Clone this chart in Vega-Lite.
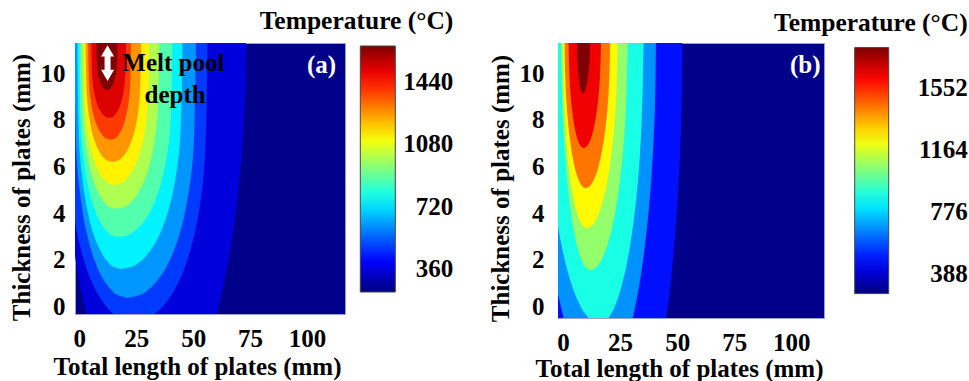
{
  "$schema": "https://vega.github.io/schema/vega-lite/v6.json",
  "background": "white",
  "padding": {"left": 8, "top": 8, "right": 0, "bottom": 0},
  "config": {
    "font": "Liberation Serif",
    "view": {"fill": "#00008B", "stroke": "#9AA0C8", "strokeWidth": 1},
    "axis": {"labelFont": "Liberation Serif", "titleFont": "Liberation Serif", "labelFontWeight": "bold", "titleFontWeight": "bold", "labelFontSize": 25, "titleFontSize": 25, "labelColor": "black", "titleColor": "black", "grid": false, "ticks": false, "domain": false, "labelFlush": false, "labelOverlap": false},
    "legend": {"labelFont": "Liberation Serif", "titleFont": "Liberation Serif", "labelFontWeight": "bold", "titleFontWeight": "bold", "labelColor": "black", "titleColor": "black", "titleLimit": 400, "labelLimit": 200}
  },
  "datasets": {
    "a": [
      {"k":1,"temp":356,"y":11.29,"xl":-8.8,"xr":73.2},{"k":1,"temp":356,"y":8.06,"xl":-8.0,"xr":72.34},{"k":1,"temp":356,"y":4.82,"xl":-5.5,"xr":69.65},{"k":1,"temp":356,"y":1.59,"xl":-0.9,"xr":64.7},{"k":1,"temp":356,"y":-0.84,"xl":4.57,"xr":58.81},{"k":1,"temp":356,"y":-2.45,"xl":9.89,"xr":53.09},
      {"k":2,"temp":485,"y":11.29,"xl":-6.1,"xr":56.3},{"k":2,"temp":485,"y":6.51,"xl":-5.13,"xr":55.24},{"k":2,"temp":485,"y":4.11,"xl":-2.68,"xr":52.56},{"k":2,"temp":485,"y":2.32,"xl":1.04,"xr":48.49},{"k":2,"temp":485,"y":1.12,"xl":5.19,"xr":43.95},{"k":2,"temp":485,"y":0.29,"xl":9.68,"xr":39.04},{"k":2,"temp":485,"y":-0.31,"xl":14.89,"xr":33.33},{"k":2,"temp":485,"y":-0.55,"xl":18.57,"xr":29.32},{"k":2,"temp":485,"y":-0.67,"xl":23.7,"xr":23.7},
      {"k":3,"temp":614,"y":11.29,"xl":-2.2,"xr":51.2},{"k":3,"temp":614,"y":6.92,"xl":-1.44,"xr":50.22},{"k":3,"temp":614,"y":4.73,"xl":0.47,"xr":47.75},{"k":3,"temp":614,"y":3.09,"xl":3.38,"xr":43.99},{"k":3,"temp":614,"y":2.0,"xl":6.63,"xr":39.8},{"k":3,"temp":614,"y":1.23,"xl":10.14,"xr":35.26},{"k":3,"temp":614,"y":0.69,"xl":14.21,"xr":29.99},{"k":3,"temp":614,"y":0.47,"xl":17.09,"xr":26.29},{"k":3,"temp":614,"y":0.36,"xl":21.1,"xr":21.1},
      {"k":4,"temp":743,"y":11.29,"xl":-0.9,"xr":45.3},{"k":4,"temp":743,"y":7.41,"xl":-0.27,"xr":44.43},{"k":4,"temp":743,"y":5.48,"xl":1.31,"xr":42.22},{"k":4,"temp":743,"y":4.02,"xl":3.72,"xr":38.85},{"k":4,"temp":743,"y":3.05,"xl":6.41,"xr":35.11},{"k":4,"temp":743,"y":2.38,"xl":9.32,"xr":31.05},{"k":4,"temp":743,"y":1.89,"xl":12.7,"xr":26.35},{"k":4,"temp":743,"y":1.7,"xl":15.07,"xr":23.03},{"k":4,"temp":743,"y":1.6,"xl":18.4,"xr":18.4},
      {"k":5,"temp":873,"y":11.29,"xl":0.0,"xr":40.9},{"k":5,"temp":873,"y":7.96,"xl":0.56,"xr":40.13},{"k":5,"temp":873,"y":6.3,"xl":1.96,"xr":38.17},{"k":5,"temp":873,"y":5.05,"xl":4.1,"xr":35.2},{"k":5,"temp":873,"y":4.22,"xl":6.48,"xr":31.88},{"k":5,"temp":873,"y":3.64,"xl":9.06,"xr":28.3},{"k":5,"temp":873,"y":3.22,"xl":12.05,"xr":24.13},{"k":5,"temp":873,"y":3.05,"xl":14.15,"xr":21.2},{"k":5,"temp":873,"y":2.97,"xl":17.1,"xr":17.1},
      {"k":6,"temp":1002,"y":11.29,"xl":0.9,"xr":35.1},{"k":6,"temp":1002,"y":8.45,"xl":1.4,"xr":34.49},{"k":6,"temp":1002,"y":7.02,"xl":2.65,"xr":32.93},{"k":6,"temp":1002,"y":5.96,"xl":4.57,"xr":30.57},{"k":6,"temp":1002,"y":5.25,"xl":6.7,"xr":27.94},{"k":6,"temp":1002,"y":4.75,"xl":9.0,"xr":25.09},{"k":6,"temp":1002,"y":4.39,"xl":11.68,"xr":21.78},{"k":6,"temp":1002,"y":4.25,"xl":13.56,"xr":19.46},{"k":6,"temp":1002,"y":4.18,"xl":16.2,"xr":16.2},
      {"k":7,"temp":1131,"y":11.29,"xl":1.8,"xr":30.7},{"k":7,"temp":1131,"y":8.86,"xl":2.24,"xr":30.2},{"k":7,"temp":1131,"y":7.64,"xl":3.36,"xr":28.95},{"k":7,"temp":1131,"y":6.73,"xl":5.06,"xr":27.03},{"k":7,"temp":1131,"y":6.12,"xl":6.95,"xr":24.9},{"k":7,"temp":1131,"y":5.7,"xl":9.0,"xr":22.6},{"k":7,"temp":1131,"y":5.39,"xl":11.38,"xr":19.92},{"k":7,"temp":1131,"y":5.27,"xl":13.06,"xr":18.04},{"k":7,"temp":1131,"y":5.21,"xl":15.4,"xr":15.4},
      {"k":8,"temp":1260,"y":11.29,"xl":2.8,"xr":27.1},{"k":8,"temp":1260,"y":9.25,"xl":3.18,"xr":26.69},{"k":8,"temp":1260,"y":8.23,"xl":4.15,"xr":25.67},{"k":8,"temp":1260,"y":7.47,"xl":5.63,"xr":24.11},{"k":8,"temp":1260,"y":6.96,"xl":7.27,"xr":22.37},{"k":8,"temp":1260,"y":6.6,"xl":9.05,"xr":20.48},{"k":8,"temp":1260,"y":6.34,"xl":11.11,"xr":18.29},{"k":8,"temp":1260,"y":6.24,"xl":12.57,"xr":16.75},{"k":8,"temp":1260,"y":6.19,"xl":14.6,"xr":14.6},
      {"k":9,"temp":1389,"y":11.29,"xl":3.9,"xr":22.7},{"k":9,"temp":1389,"y":9.63,"xl":4.23,"xr":22.41},{"k":9,"temp":1389,"y":8.8,"xl":5.05,"xr":21.69},{"k":9,"temp":1389,"y":8.18,"xl":6.3,"xr":20.59},{"k":9,"temp":1389,"y":7.76,"xl":7.69,"xr":19.37},{"k":9,"temp":1389,"y":7.47,"xl":9.2,"xr":18.04},{"k":9,"temp":1389,"y":7.26,"xl":10.95,"xr":16.5},{"k":9,"temp":1389,"y":7.18,"xl":12.18,"xr":15.42},{"k":9,"temp":1389,"y":7.14,"xl":13.9,"xr":13.9},
      {"k":10,"temp":1518,"y":11.29,"xl":5.3,"xr":20.5},{"k":10,"temp":1518,"y":10.01,"xl":5.56,"xr":20.26},{"k":10,"temp":1518,"y":9.36,"xl":6.21,"xr":19.66},{"k":10,"temp":1518,"y":8.88,"xl":7.19,"xr":18.75},{"k":10,"temp":1518,"y":8.56,"xl":8.29,"xr":17.73},{"k":10,"temp":1518,"y":8.34,"xl":9.48,"xr":16.63},{"k":10,"temp":1518,"y":8.18,"xl":10.87,"xr":15.36},{"k":10,"temp":1518,"y":8.11,"xl":11.84,"xr":14.46},{"k":10,"temp":1518,"y":8.08,"xl":13.2,"xr":13.2},
      {"k":11,"temp":1647,"y":11.29,"xl":7.5,"xr":16.8},{"k":11,"temp":1647,"y":10.49,"xl":7.66,"xr":16.65},{"k":11,"temp":1647,"y":10.08,"xl":8.05,"xr":16.28},{"k":11,"temp":1647,"y":9.78,"xl":8.65,"xr":15.72},{"k":11,"temp":1647,"y":9.58,"xl":9.32,"xr":15.1},{"k":11,"temp":1647,"y":9.44,"xl":10.04,"xr":14.42},{"k":11,"temp":1647,"y":9.34,"xl":10.88,"xr":13.63},{"k":11,"temp":1647,"y":9.3,"xl":11.47,"xr":13.08},{"k":11,"temp":1647,"y":9.28,"xl":12.3,"xr":12.3}
    ],
    "b": [
      {"k":1,"temp":478,"y":11.29,"xl":-18.57,"xr":52.26},{"k":1,"temp":478,"y":7.54,"xl":-17.77,"xr":51.63},{"k":1,"temp":478,"y":3.78,"xl":-15.28,"xr":49.64},{"k":1,"temp":478,"y":0.03,"xl":-10.69,"xr":45.98},{"k":1,"temp":478,"y":-2.79,"xl":-5.22,"xr":41.62},
      {"k":2,"temp":679,"y":11.29,"xl":-11.39,"xr":40.69},{"k":2,"temp":679,"y":8.39,"xl":-10.83,"xr":40.2},{"k":2,"temp":679,"y":5.49,"xl":-9.06,"xr":38.67},{"k":2,"temp":679,"y":2.6,"xl":-5.82,"xr":35.85},{"k":2,"temp":679,"y":0.42,"xl":-1.96,"xr":32.49},{"k":2,"temp":679,"y":-1.03,"xl":1.79,"xr":29.23},
      {"k":3,"temp":880,"y":11.29,"xl":-8.06,"xr":35.3},{"k":3,"temp":880,"y":6.49,"xl":-6.05,"xr":33.69},{"k":3,"temp":880,"y":4.08,"xl":-3.24,"xr":31.45},{"k":3,"temp":880,"y":2.28,"xl":0.1,"xr":28.78},{"k":3,"temp":880,"y":1.08,"xl":3.34,"xr":26.18},{"k":3,"temp":880,"y":0.24,"xl":6.59,"xr":23.58},{"k":3,"temp":880,"y":-0.36,"xl":10.17,"xr":20.71},{"k":3,"temp":880,"y":-0.6,"xl":12.63,"xr":18.75},{"k":3,"temp":880,"y":-0.72,"xl":16.03,"xr":16.03},
      {"k":4,"temp":1065,"y":11.29,"xl":-0.83,"xr":28.3},{"k":4,"temp":1065,"y":7.39,"xl":0.23,"xr":26.93},{"k":4,"temp":1065,"y":5.45,"xl":1.71,"xr":25.01},{"k":4,"temp":1065,"y":3.98,"xl":3.47,"xr":22.74},{"k":4,"temp":1065,"y":3.01,"xl":5.18,"xr":20.53},{"k":4,"temp":1065,"y":2.33,"xl":6.89,"xr":18.31},{"k":4,"temp":1065,"y":1.84,"xl":8.78,"xr":15.86},{"k":4,"temp":1065,"y":1.65,"xl":10.08,"xr":14.19},{"k":4,"temp":1065,"y":1.55,"xl":11.87,"xr":11.87},
      {"k":5,"temp":1235,"y":11.29,"xl":-0.18,"xr":23.92},{"k":5,"temp":1235,"y":8.11,"xl":0.7,"xr":22.79},{"k":5,"temp":1235,"y":6.53,"xl":1.92,"xr":21.2},{"k":5,"temp":1235,"y":5.33,"xl":3.38,"xr":19.32},{"k":5,"temp":1235,"y":4.54,"xl":4.8,"xr":17.49},{"k":5,"temp":1235,"y":3.99,"xl":6.22,"xr":15.66},{"k":5,"temp":1235,"y":3.59,"xl":7.78,"xr":13.64},{"k":5,"temp":1235,"y":3.43,"xl":8.86,"xr":12.26},{"k":5,"temp":1235,"y":3.35,"xl":10.34,"xr":10.34},
      {"k":6,"temp":1436,"y":11.29,"xl":0.7,"xr":20.63},{"k":6,"temp":1436,"y":8.8,"xl":1.47,"xr":19.73},{"k":6,"temp":1436,"y":7.56,"xl":2.54,"xr":18.48},{"k":6,"temp":1436,"y":6.63,"xl":3.82,"xr":17.0},{"k":6,"temp":1436,"y":6.0,"xl":5.05,"xr":15.55},{"k":6,"temp":1436,"y":5.57,"xl":6.29,"xr":14.11},{"k":6,"temp":1436,"y":5.26,"xl":7.66,"xr":12.51},{"k":6,"temp":1436,"y":5.13,"xl":8.6,"xr":11.41},{"k":6,"temp":1436,"y":5.07,"xl":9.9,"xr":9.9},
      {"k":7,"temp":1637,"y":11.29,"xl":2.45,"xr":16.6},{"k":7,"temp":1637,"y":9.49,"xl":3.0,"xr":15.97},{"k":7,"temp":1637,"y":8.58,"xl":3.76,"xr":15.08},{"k":7,"temp":1637,"y":7.91,"xl":4.67,"xr":14.03},{"k":7,"temp":1637,"y":7.46,"xl":5.56,"xr":13.01},{"k":7,"temp":1637,"y":7.14,"xl":6.45,"xr":11.99},{"k":7,"temp":1637,"y":6.92,"xl":7.42,"xr":10.86},{"k":7,"temp":1637,"y":6.83,"xl":8.09,"xr":10.09},{"k":7,"temp":1637,"y":6.78,"xl":9.02,"xr":9.02},
      {"k":8,"temp":1807,"y":11.29,"xl":6.18,"xr":11.87},{"k":8,"temp":1807,"y":10.43,"xl":6.38,"xr":11.6},{"k":8,"temp":1807,"y":10.0,"xl":6.66,"xr":11.21},{"k":8,"temp":1807,"y":9.68,"xl":7.0,"xr":10.76},{"k":8,"temp":1807,"y":9.46,"xl":7.32,"xr":10.32},{"k":8,"temp":1807,"y":9.31,"xl":7.65,"xr":9.88},{"k":8,"temp":1807,"y":9.2,"xl":8.0,"xr":9.39},{"k":8,"temp":1807,"y":9.16,"xl":8.25,"xr":9.05},{"k":8,"temp":1807,"y":9.14,"xl":8.59,"xr":8.59}
    ]
  },
  "spacing": 33,
  "resolve": {"scale": {"color": "independent", "x": "independent", "y": "independent"}, "legend": {"color": "independent"}},
  "hconcat": [
    {
      "width": 270,
      "height": 271,
      "encoding": {
        "x": {"field": "xl", "type": "quantitative", "stack": null, "scale": {"domain": [-1.9, 116.7], "nice": false, "zero": false},
              "axis": {"values": [0, 25, 50, 75, 100], "title": "Total length of plates (mm)", "labelPadding": 12, "titlePadding": 3, "titleX": 122}},
        "y": {"field": "y", "type": "quantitative", "scale": {"domain": [-0.33, 11.29], "nice": false, "zero": false},
              "axis": {"values": [0, 2, 4, 6, 8, 10], "title": "Thickness of plates (mm)", "labelPadding": 10, "titlePadding": 6, "titleY": 144}}
      },
      "layer": [
        {
          "data": {"name": "a"},
          "mark": {"type": "area", "orient": "horizontal", "interpolate": "monotone", "clip": true},
          "encoding": {
            "x2": {"field": "xr"},
            "detail": {"field": "k", "type": "quantitative"},
            "color": {"field": "temp", "type": "quantitative",
              "scale": {"domain": [227, 1647], "range": ["#00007F","#0000FF","#007FFF","#00FFFF","#7FFF7F","#FFFF00","#FF7F00","#FF0000","#7F0000"], "interpolate": "rgb"},
              "legend": {"orient": "none", "legendX": 184.3, "legendY": -34, "padding": 0, "direction": "vertical",
                "title": "Temperature (°C)", "titleFontSize": 25.5, "titleAnchor": "end", "titlePadding": 11.5,
                "gradientLength": 246, "gradientThickness": 35, "gradientStrokeColor": "#444444", "gradientStrokeWidth": 1,
                "values": [360, 720, 1080, 1440], "format": "d", "labelFontSize": 25, "labelOffset": 58, "labelAlign": "right",
                "encode": {"labels": {"update": {"align": {"value": "right"}}}}}}
          }
        },
        {
          "data": {"values": [{"xl": 112.8, "y": 10.36, "t": "(a)"}]},
          "mark": {"type": "text", "color": "white", "fontSize": 25, "fontWeight": "bold", "align": "right", "baseline": "middle"},
          "encoding": {"text": {"field": "t"}}
        },
        {
          "data": {"values": [{"xl": 41.3, "y": 10.43, "t": "Melt pool"}, {"xl": 42.1, "y": 9.07, "t": "depth"}]},
          "mark": {"type": "text", "color": "black", "fontSize": 25, "fontWeight": "bold", "align": "center", "baseline": "middle"},
          "encoding": {"text": {"field": "t"}}
        },
        {
          "data": {"values": [{"xl": 12.4, "y": 10.8, "y2": 10.05}]},
          "mark": {"type": "rule", "color": "white", "strokeWidth": 6},
          "encoding": {"y2": {"field": "y2"}}
        },
        {
          "data": {"values": [{"xl": 12.4, "y": 10.95}]},
          "mark": {"type": "point", "shape": "triangle-up", "filled": true, "color": "white", "opacity": 1, "size": 170},
          "encoding": {}
        },
        {
          "data": {"values": [{"xl": 12.4, "y": 9.9}]},
          "mark": {"type": "point", "shape": "triangle-down", "filled": true, "color": "white", "opacity": 1, "size": 170},
          "encoding": {}
        }
      ]
    },
    {
      "width": 266,
      "height": 275,
      "encoding": {
        "x": {"field": "xl", "type": "quantitative", "stack": null, "scale": {"domain": [-2.2, 114.3], "nice": false, "zero": false},
              "axis": {"values": [0, 25, 50, 75, 100], "title": "Total length of plates (mm)", "labelPadding": 12, "titlePadding": 1, "titleX": 121}},
        "y": {"field": "y", "type": "quantitative", "scale": {"domain": [-0.49, 11.29], "nice": false, "zero": false},
              "axis": {"values": [0, 2, 4, 6, 8, 10], "title": "Thickness of plates (mm)", "labelPadding": 14, "titlePadding": 6, "titleY": 145}}
      },
      "layer": [
        {
          "data": {"name": "b"},
          "mark": {"type": "area", "orient": "horizontal", "interpolate": "monotone", "clip": true},
          "encoding": {
            "x2": {"field": "xr"},
            "detail": {"field": "k", "type": "quantitative"},
            "color": {"field": "temp", "type": "quantitative",
              "scale": {"domain": [262, 1807], "range": ["#00007F","#0000FF","#007FFF","#00FFFF","#7FFF7F","#FFFF00","#FF7F00","#FF0000","#7F0000"], "interpolate": "rgb"},
              "legend": {"orient": "none", "legendX": 215.7, "legendY": -32.4, "padding": 0, "direction": "vertical",
                "title": "Temperature (°C)", "titleFontSize": 25.5, "titleAnchor": "end", "titlePadding": 11.5,
                "gradientLength": 246, "gradientThickness": 34, "gradientStrokeColor": "#444444", "gradientStrokeWidth": 1,
                "values": [388, 776, 1164, 1552], "format": "d", "labelFontSize": 25, "labelOffset": 79, "labelAlign": "right",
                "encode": {"labels": {"update": {"align": {"value": "right"}}}}}}
          }
        },
        {
          "data": {"values": [{"xl": 112.8, "y": 10.36, "t": "(b)"}]},
          "mark": {"type": "text", "color": "white", "fontSize": 25, "fontWeight": "bold", "align": "right", "baseline": "middle"},
          "encoding": {"text": {"field": "t"}}
        }
      ]
    }
  ]
}
